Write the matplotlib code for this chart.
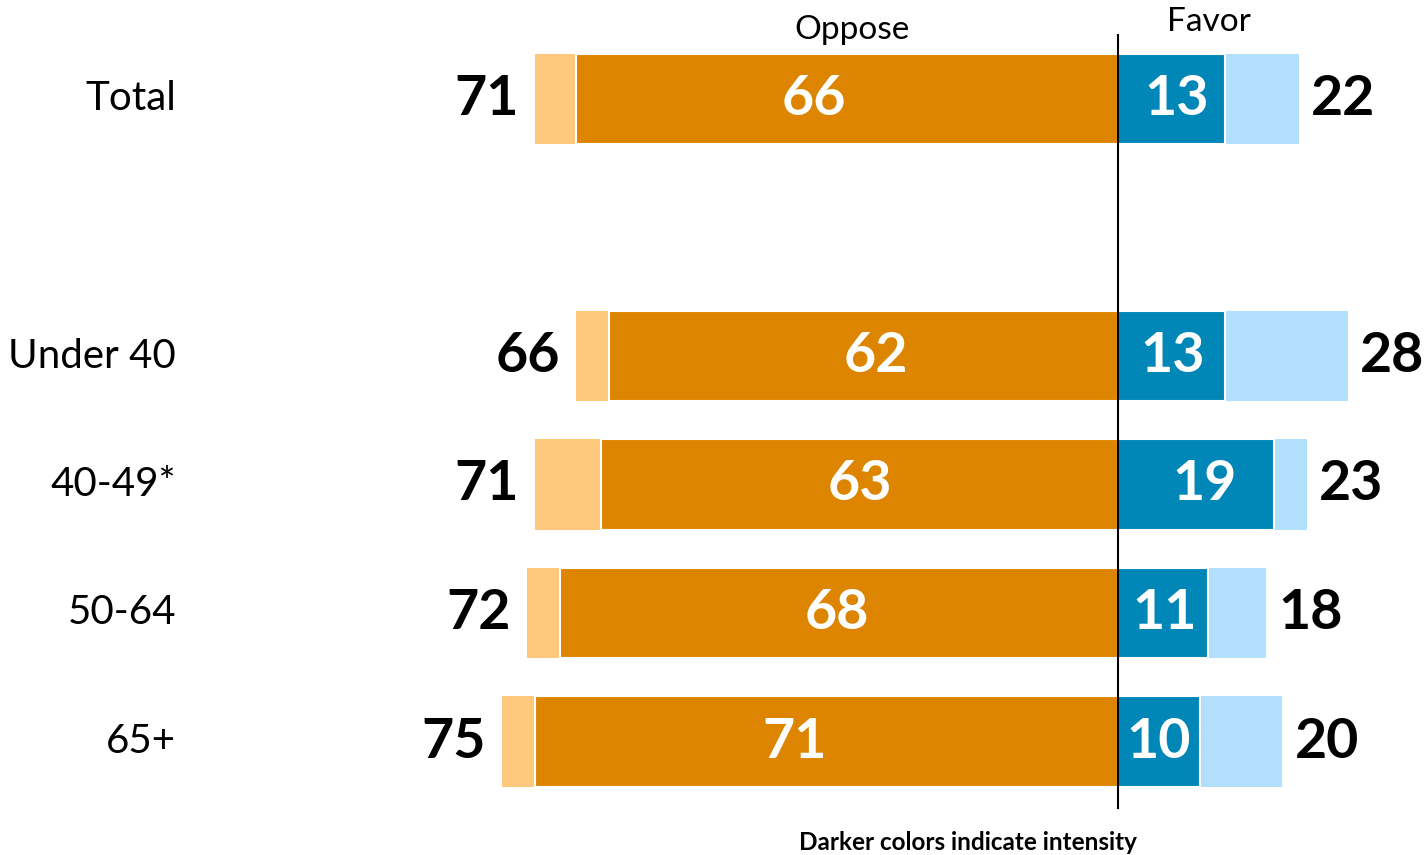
import matplotlib
matplotlib.use("Agg")
import matplotlib.pyplot as plt

categories = ["Total", "Under 40", "40-49*", "50-64", "65+"]
positions = [0, 2, 3, 4, 5]
oppose_total = [71, 66, 71, 72, 75]
oppose_strong = [66, 62, 63, 68, 71]
favor_strong = [13, 13, 19, 11, 10]
favor_total = [22, 28, 23, 18, 20]

# label placement nudges (in value units), mimicking the original layout
oppose_label_shift = [-4.1, 1.5, 0.0, -0.2, -3.9]
favor_label_shift = [0.6, 0.1, 1.0, 0.2, -0.1]

DARK_OR = "#DD8500"
LIGHT_OR = "#FDC77C"
DARK_BL = "#0086B7"
LIGHT_BL = "#B1DFFC"

plt.rcParams['font.family'] = ['Lato', 'DejaVu Sans']

fig = plt.figure(figsize=(14.24, 8.55), dpi=100)
ax = fig.add_axes([0, 0, 1, 1])
ppu = 8.21
ax.set_xlim(-1118 / ppu, (1424 - 1118) / ppu)
ax.set_ylim((855 - 99) / 128.5, -99 / 128.5)
ax.axis('off')

h = 0.708
for i, p in enumerate(positions):
    ot, os_, fs, ft = oppose_total[i], oppose_strong[i], favor_strong[i], favor_total[i]
    ax.barh(p, -ot, height=h, color=LIGHT_OR, edgecolor='none')
    ax.barh(p, -os_, height=h, color=DARK_OR, edgecolor='white', linewidth=1.5)
    ax.barh(p, ft, height=h, color=LIGHT_BL, edgecolor='none')
    ax.barh(p, fs, height=h, color=DARK_BL, edgecolor='white', linewidth=1.5)
    ax.text(-os_ / 2 + oppose_label_shift[i], p, str(os_), color='white', fontsize=40,
            fontweight='bold', ha='center', va='center')
    ax.text(fs / 2 + favor_label_shift[i], p, str(fs), color='white', fontsize=40,
            fontweight='bold', ha='center', va='center')
    ax.text(-ot - 2, p, str(ot), color='black', fontsize=40, fontweight='bold',
            ha='right', va='center')
    ax.text(ft + 1.5, p, str(ft), color='black', fontsize=40, fontweight='bold',
            ha='left', va='center')

for p, c in zip(positions, categories):
    ax.text(-1118 / ppu + 176 / ppu, p, c, fontsize=29, ha='right', va='center')

ax.plot([0, 0], [(35 - 99) / 128.5, (808 - 99) / 128.5], color='black', lw=1.5, zorder=5)

ax.text((852 - 1118) / ppu, (30 - 99) / 128.5, "Oppose", fontsize=24, ha='center', va='center')
ax.text((1209 - 1118) / ppu, (22 - 99) / 128.5, "Favor", fontsize=24, ha='center', va='center')
ax.text((968 - 1118) / ppu, (842 - 99) / 128.5, "Darker colors indicate intensity",
        fontsize=17.5, fontweight='bold', ha='center', va='center')

fig.savefig("out.png", dpi=100)
